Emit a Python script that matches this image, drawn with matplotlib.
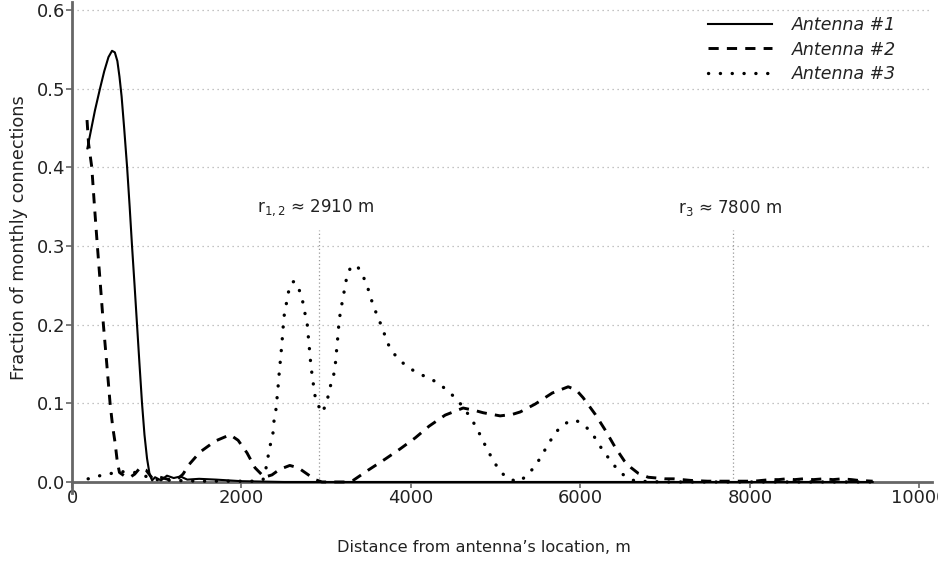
import matplotlib
matplotlib.use("Agg")
import matplotlib.pyplot as plt

plt.rcParams['font.family'] = ['DejaVu Sans']
plt.rcParams['mathtext.fontset'] = 'dejavusans'

# ---- data ----
x1 = [181, 220, 270, 330, 380, 430, 472, 505, 535, 560, 585, 615, 650, 680, 708, 738, 767, 796,
      826, 855, 885, 915, 945, 980, 1050, 1120, 1200, 1280, 1360, 1500, 1700, 2000, 2500, 3000,
      4000, 5000, 6000, 7000, 8000, 9000, 9450]
y1 = [0.424, 0.445, 0.472, 0.500, 0.522, 0.540, 0.548, 0.546, 0.535, 0.515, 0.490, 0.450, 0.400,
      0.350, 0.300, 0.250, 0.200, 0.150, 0.100, 0.060, 0.030, 0.010, 0.002, 0.006, 0.002, 0.008,
      0.005, 0.007, 0.003, 0.004, 0.003, 0.001, 0.0, 0.0, 0.0, 0.0, 0.0, 0.0, 0.0, 0.0, 0.0]

x2 = [177, 195, 233, 265, 299, 335, 370, 410, 449, 480, 508, 535, 560, 614, 685, 740, 803, 874,
      945, 1040, 1145, 1250, 1310, 1380, 1510, 1690, 1865, 1960, 2065, 2160, 2270, 2360, 2450,
      2570, 2670, 2750, 2870, 2950, 3100, 3250, 3318, 3495, 3695, 3872, 4050, 4215, 4404, 4616,
      4750, 4852, 5053, 5200, 5290, 5466, 5667, 5856, 5950, 6033, 6175, 6293, 6411, 6517, 6600,
      6683, 6800, 6907, 7000, 7100, 7200, 7300, 7500, 7800, 8050, 8240, 8340, 8430, 8530, 8630,
      8750, 8870, 8980, 9090, 9200, 9280, 9450]
y2 = [0.460, 0.430, 0.400, 0.350, 0.300, 0.250, 0.200, 0.150, 0.100, 0.070, 0.050, 0.025, 0.012,
      0.008, 0.006, 0.010, 0.018, 0.015, 0.005, 0.006, 0.003, 0.004, 0.010, 0.022, 0.038, 0.052,
      0.060, 0.053, 0.037, 0.018, 0.006, 0.009, 0.016, 0.021, 0.018, 0.012, 0.003, 0.0, 0.0, 0.0,
      0.002, 0.015, 0.029, 0.042, 0.056, 0.071, 0.085, 0.094, 0.091, 0.088, 0.084, 0.086, 0.089,
      0.099, 0.113, 0.121, 0.117, 0.107, 0.086, 0.066, 0.044, 0.027, 0.018, 0.011, 0.006, 0.005,
      0.004, 0.004, 0.003, 0.002, 0.001, 0.001, 0.001, 0.003, 0.003, 0.004, 0.003, 0.004, 0.003,
      0.004, 0.003, 0.004, 0.003, 0.002, 0.001]

x3 = [190, 330, 470, 600, 750, 900, 1000, 1200, 1500, 2000, 2200, 2255, 2290, 2315, 2340, 2373,
      2385, 2408, 2420, 2432, 2444, 2456, 2468, 2480, 2491, 2503, 2527, 2550, 2597, 2630, 2668,
      2715, 2739, 2774, 2786, 2798, 2810, 2822, 2845, 2857, 2893, 2952, 3011, 3034, 3081, 3105,
      3117, 3129, 3141, 3152, 3176, 3200, 3223, 3247, 3290, 3330, 3380, 3424, 3483, 3518, 3565,
      3613, 3672, 3707, 3778, 3861, 3979, 4085, 4215, 4333, 4451, 4545, 4628, 4711, 4782, 4840,
      4900, 4970, 5040, 5135, 5265, 5370, 5455, 5537, 5608, 5679, 5762, 5880, 5950, 6010, 6116,
      6198, 6269, 6352, 6435, 6541, 6650, 7000, 8000, 9450]
y3 = [0.004, 0.008, 0.011, 0.013, 0.012, 0.006, 0.003, 0.002, 0.001, 0.001, 0.001, 0.003, 0.018,
      0.033, 0.047, 0.063, 0.079, 0.093, 0.107, 0.121, 0.137, 0.151, 0.165, 0.180, 0.196, 0.211,
      0.225, 0.240, 0.254, 0.255, 0.248, 0.234, 0.219, 0.203, 0.188, 0.174, 0.159, 0.145, 0.128,
      0.114, 0.100, 0.088, 0.102, 0.117, 0.132, 0.146, 0.161, 0.175, 0.189, 0.205, 0.221, 0.235,
      0.249, 0.263, 0.273, 0.276, 0.272, 0.264, 0.250, 0.236, 0.222, 0.208, 0.194, 0.180, 0.166,
      0.155, 0.145, 0.138, 0.132, 0.125, 0.114, 0.105, 0.093, 0.081, 0.067, 0.055, 0.041, 0.028,
      0.015, 0.005, 0.0, 0.008, 0.019, 0.032, 0.046, 0.058, 0.070, 0.078, 0.078, 0.075, 0.065,
      0.052, 0.039, 0.028, 0.016, 0.006, 0.001, 0.0, 0.0, 0.0]

labels = ["Antenna #1", "Antenna #2", "Antenna #3"]
radii = [2910, 7800]
radius_labels = [r"r$_{\mathregular{1,2}}$ ≈ 2910 m", r"r$_{\mathregular{3}}$ ≈ 7800 m"]
xticks = [0, 2000, 4000, 6000, 8000, 10000]
yticks = [0.0, 0.1, 0.2, 0.3, 0.4, 0.5, 0.6]

# ---- figure ----
fig = plt.figure(figsize=(9.38, 5.62), dpi=100)
ax = fig.add_axes([0.0768, 0.1228, 0.9168, 0.8736])

spine_col = "#666666"
text_col = "#222222"
for yv in yticks[1:]:
    ax.axhline(yv, color="#b0b0b0", lw=0.9, ls=(0, (1, 3)), zorder=0)

for r, lab in zip(radii, radius_labels):
    ax.plot([r, r], [0, 0.32], color="#999999", lw=0.9, ls=(0, (1, 2)), zorder=1)
    ax.text(r - 40, 0.348, lab, ha="center", va="center", fontsize=12, color=text_col)

ax.plot(x1, y1, color="black", lw=1.5, ls="-", label=labels[0], zorder=3)
ax.plot(x2, y2, color="black", lw=2.1, ls=(0, (3.5, 2.8)), label=labels[1], zorder=3)
ax.plot(x3, y3, color="black", lw=2.4, ls=(0, (0.05, 3.5)), dash_capstyle="round",
        label=labels[2], zorder=3)

ax.set_xlim(0, 10150)
ax.set_ylim(-0.014, 0.61)
ax.set_xticks(xticks)
ax.set_yticks(yticks)
ax.set_xticklabels([str(v) for v in xticks])
ax.set_yticklabels(["%.1f" % v for v in yticks])

ax.spines["top"].set_visible(False)
ax.spines["right"].set_visible(False)
ax.spines["bottom"].set_position(("data", 0))
for s in ["left", "bottom"]:
    ax.spines[s].set_color(spine_col)
    ax.spines[s].set_linewidth(2.0)
    ax.spines[s].set_zorder(2)
ax.tick_params(axis="both", colors=spine_col, labelcolor=text_col, labelsize=13,
               length=4, width=1.2)
ax.tick_params(axis="x", pad=1)
ax.tick_params(axis="y", pad=1)

ax.set_xlabel("Distance from antenna\u2019s location, m", fontsize=11.6, color=text_col,
              labelpad=24)
ax.xaxis.label.set_x(0.479)
ax.set_ylabel("Fraction of monthly connections", fontsize=12.8, color=text_col, labelpad=6)
ax.yaxis.label.set_y(0.521)

leg = ax.legend(loc="upper left", bbox_to_anchor=(0.7395, 0.972), frameon=False,
                prop={"style": "italic", "size": 12.5}, handlelength=3.68,
                handletextpad=1.15, labelspacing=0.39, borderpad=0, borderaxespad=0)
for t in leg.get_texts():
    t.set_color(text_col)

fig.savefig("out.png", dpi=100)
